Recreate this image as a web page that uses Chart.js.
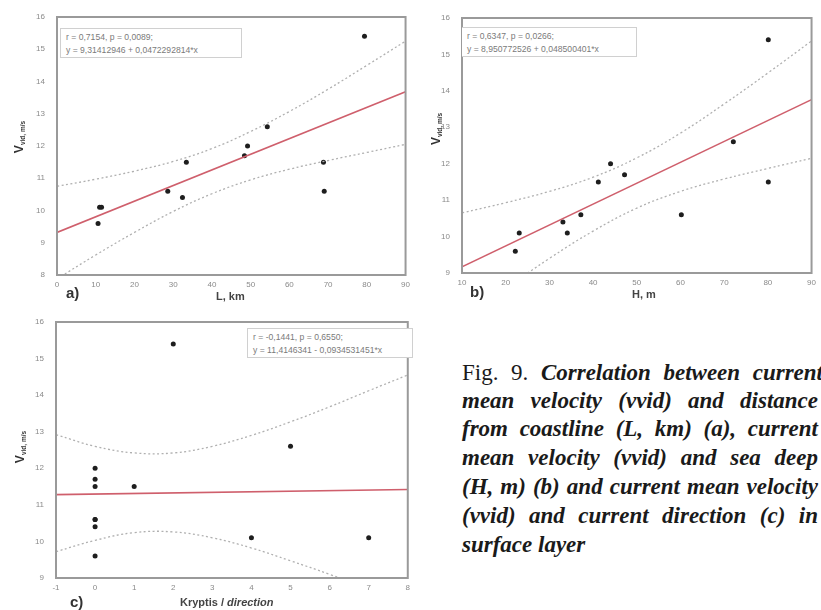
<!DOCTYPE html>
<html>
<head>
<meta charset="utf-8">
<script src="https://cdn.jsdelivr.net/npm/chart.js@4.4.1/dist/chart.umd.min.js"></script>
<style>
  html, body { margin:0; padding:0; background:#fff; }
  body { width:821px; height:610px; position:relative; overflow:hidden; font-family:"Liberation Sans", Arial, sans-serif; }
  canvas { position:absolute; }
  .lbl { position:absolute; color:#333; font-weight:bold; white-space:nowrap; }
  .ytitle { position:absolute; transform:rotate(-90deg); transform-origin:center center; white-space:nowrap; color:#333; width:80px; text-align:center; }
  .ytitle b { font-size:12px; }
  .ytitle span { font-size:6.5px; position:relative; top:2px; font-weight:bold; }
  .note { position:absolute; border:1px solid #d0d0d0; color:#7a7a7a; font-size:8.6px; line-height:13px; padding:2px 5px; white-space:nowrap; background:#fff; box-sizing:border-box; }
  .cap { position:absolute; left:462px; width:356px; font-family:"Liberation Serif","Times New Roman",serif; font-size:23px; line-height:29px; color:#1a1a1a; font-weight:bold; font-style:italic; white-space:nowrap; text-align:justify; text-align-last:justify; }
  .cap .reg { font-weight:normal; font-style:normal; }
</style>
</head>
<body>
<canvas id="ca" width="415" height="300" style="left:0;top:0"></canvas>
<canvas id="cb" width="406" height="300" style="left:415px;top:0"></canvas>
<canvas id="cc" width="415" height="305" style="left:0;top:305px"></canvas>

<div class="ytitle" style="left:-22px;top:128px"><b>V</b><span>vid, m/s</span></div>
<div class="ytitle" style="left:395px;top:120px"><b>V</b><span>vid, m/s</span></div>
<div class="ytitle" style="left:-21px;top:438px"><b>V</b><span>vid, m/s</span></div>

<div class="lbl" style="left:66px;top:284px;font-size:15px">a)</div>
<div class="lbl" style="left:216px;top:290px;font-size:11px;color:#444">L, km</div>
<div class="lbl" style="left:470px;top:283px;font-size:15px">b)</div>
<div class="lbl" style="left:632px;top:288px;font-size:11px;color:#444">H, m</div>
<div class="lbl" style="left:70px;top:593px;font-size:15px">c)</div>
<div class="lbl" style="left:180px;top:596px;font-size:11px;color:#444">Kryptis / <i>direction</i></div>

<div class="note" style="left:60px;top:28px;width:182px;height:30px">r = 0,7154, p = 0,0089;<br>y = 9,31412946 + 0,0472292814*x</div>
<div class="note" style="left:462px;top:27px;width:175px;height:30px;border-left:none">r = 0,6347, p = 0,0266;<br>y = 8,950772526 + 0,048500401*x</div>
<div class="note" style="left:247px;top:328px;width:166px;height:30px">r = -0,1441, p = 0,6550;<br>y = 11,4146341 - 0,0934531451*x</div>

<div class="cap" style="top:358px;width:361px"><span class="reg">Fig. 9.</span> Correlation between current</div>
<div class="cap" style="top:386px">mean velocity (vvid) and distance</div>
<div class="cap" style="top:414px">from coastline (L, km) (a), current</div>
<div class="cap" style="top:443px">mean velocity (vvid) and sea deep</div>
<div class="cap" style="top:472px">(H, m) (b) and current mean velocity</div>
<div class="cap" style="top:501px">(vvid) and current direction (c) in</div>
<div class="cap" style="top:530px;text-align-last:left">surface layer</div>

<script>
// ---------- Panel a: velocity vs distance from coastline ----------
const aL = [10.6, 11.0, 11.5, 28.6, 32.4, 33.4, 48.4, 49.2, 54.3, 68.8, 69.0, 79.4];
const aV = [9.6, 10.1, 10.1, 10.6, 10.4, 11.5, 11.7, 12.0, 12.6, 11.5, 10.6, 15.4];
const aFitX = [0, 90];
const aFitY = [9.32, 13.68];
const aBandX = [0, 10, 20, 30, 40, 50, 60, 70, 80, 90];
const aUpper = [10.75, 10.97, 11.22, 11.52, 11.92, 12.45, 13.07, 13.76, 14.50, 15.25];
const aLower = [7.88, 8.62, 9.32, 9.97, 10.52, 10.95, 11.28, 11.55, 11.80, 12.05];

// ---------- Panel b: velocity vs sea depth ----------
const bH = [22.2, 23.1, 33.1, 34.1, 37.2, 41.2, 44.0, 47.2, 60.2, 72.1, 80.1, 80.1];
const bV = [9.6, 10.1, 10.4, 10.1, 10.6, 11.5, 12.0, 11.7, 10.6, 12.6, 11.5, 15.4];
const bFitX = [10, 90];
const bFitY = [9.17, 13.76];
const bBandX = [10, 20, 30, 40, 50, 60, 70, 80, 90];
const bUpper = [10.65, 10.93, 11.24, 11.63, 12.16, 12.84, 13.64, 14.49, 15.37];
const bLower = [7.69, 8.57, 9.40, 10.15, 10.78, 11.24, 11.58, 11.87, 12.15];

// ---------- Panel c: velocity vs current direction ----------
const cDir = [0, 0, 0, 0, 0, 0, 0, 1, 2, 4, 5, 7];
const cV = [9.6, 10.4, 10.6, 10.6, 11.5, 11.7, 12.0, 11.5, 15.4, 10.1, 12.6, 10.1];
const cFitX = [-1, 8];
const cFitY = [11.28, 11.42];
const cBandX = [-1, 0, 1, 2, 3, 4, 5, 6, 7, 8];
const cUpper = [12.92, 12.60, 12.42, 12.42, 12.60, 12.90, 13.27, 13.68, 14.12, 14.55];
const cLower = [9.72, 10.03, 10.24, 10.26, 10.10, 9.82, 9.47, 9.10, 8.70, 8.29];

const pts = (xs, ys) => xs.map((x, i) => ({x, y: ys[i]}));

const boxPlugin = {
  id: 'box',
  afterDatasetsDraw(chart) {
    const a = chart.chartArea, ctx = chart.ctx;
    ctx.save();
    ctx.strokeStyle = '#9a9a9a';
    ctx.lineWidth = 2;
    ctx.strokeRect(a.left, a.top, a.right - a.left, a.bottom - a.top);
    ctx.restore();
  }
};

function panel(id, xs, ys, fx, fy, bx, bu, bl, xr, yr, lay) {
  const tickFont = {family: '"Liberation Sans", Arial, sans-serif', size: 8};
  new Chart(document.getElementById(id), {
    type: 'scatter',
    data: {
      datasets: [
        {data: pts(bx, bu), showLine: true, borderColor: '#b0b0b0', borderWidth: 1.3, borderDash: [2, 2.5], pointRadius: 0, tension: 0.4, fill: false},
        {data: pts(bx, bl), showLine: true, borderColor: '#b0b0b0', borderWidth: 1.3, borderDash: [2, 2.5], pointRadius: 0, tension: 0.4, fill: false},
        {data: pts(fx, fy), showLine: true, borderColor: '#cf5f6c', borderWidth: 1.6, pointRadius: 0, fill: false},
        {data: pts(xs, ys), showLine: false, pointRadius: 2.5, pointBackgroundColor: '#1e1e1e', pointBorderColor: '#1e1e1e', pointBorderWidth: 0}
      ]
    },
    options: {
      responsive: false,
      animation: false,
      events: [],
      layout: {padding: {left: 0, top: lay.top, right: lay.right, bottom: 0}},
      plugins: {legend: {display: false}, tooltip: {enabled: false}},
      scales: {
        x: {
          type: 'linear', min: xr[0], max: xr[1],
          ticks: {stepSize: xr[2], color: '#8a8a8a', font: tickFont, padding: 5},
          grid: {display: false, drawTicks: false},
          border: {display: false},
          afterFit(s) { s.height = lay.xh; }
        },
        y: {
          type: 'linear', min: yr[0], max: yr[1],
          ticks: {stepSize: 1, color: '#8a8a8a', font: tickFont, padding: 12},
          grid: {display: false, drawTicks: false},
          border: {display: false},
          afterFit(s) { s.width = lay.yw; }
        }
      }
    },
    plugins: [boxPlugin]
  });
}

panel('ca', aL, aV, aFitX, aFitY, aBandX, aUpper, aLower, [0, 90, 10], [8, 16], {top: 17, right: 5, xh: 25, yw: 57});
panel('cb', bH, bV, bFitX, bFitY, bBandX, bUpper, bLower, [10, 90, 10], [9, 16], {top: 18, right: 4, xh: 27, yw: 47});
panel('cc', cDir, cV, cFitX, cFitY, cBandX, cUpper, cLower, [-1, 8, 1], [9, 16], {top: 17, right: 3, xh: 32, yw: 56});
</script>
</body>
</html>
